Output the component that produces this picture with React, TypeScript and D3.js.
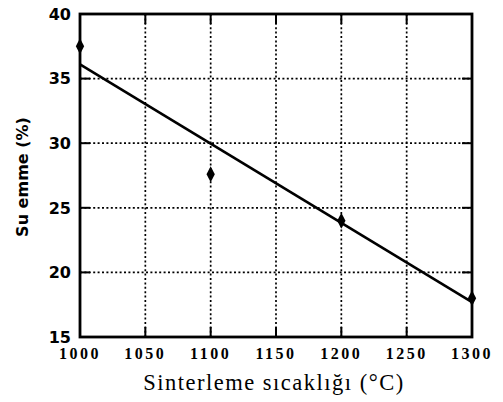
import React from "react";
import * as d3 from "d3";

const temps = [1000, 1100, 1200, 1300];
const absorption = [37.5, 27.6, 24.0, 18.0];
const trendX = [1000, 1300];
const trendY = [36.1, 17.7];
const xTicks = [1000, 1050, 1100, 1150, 1200, 1250, 1300];
const yTicks = [15, 20, 25, 30, 35, 40];

const W = 503, H = 402;
const m = { left: 80, right: 31, top: 14, bottom: 65 };

export default function App() {
  const x = d3.scaleLinear().domain([1000, 1300]).range([m.left, W - m.right]);
  const y = d3.scaleLinear().domain([15, 40]).range([H - m.bottom, m.top]);
  const line = d3.line<number>().x((_, i) => x(trendX[i])).y((d) => y(d));
  const diamond = d3.symbol().type(d3.symbolDiamond).size(60)();
  const x0 = x(1000), x1 = x(1300), y0 = y(15), y1 = y(40);
  const tickLen = 10;
  return (
    <div style={{ position: "fixed", left: 0, top: 0 }}>
      <svg width={W} height={H} style={{ display: "block", background: "#fff" }}>
        {xTicks.slice(1, -1).map((t) => (
          <line key={"gx" + t} x1={x(t)} x2={x(t)} y1={y1} y2={y0} stroke="#000" strokeWidth={1.7} strokeDasharray="2,2.4" />
        ))}
        {yTicks.slice(1, -1).map((t) => (
          <line key={"gy" + t} x1={x0} x2={x1} y1={y(t)} y2={y(t)} stroke="#000" strokeWidth={1.7} strokeDasharray="2,2.4" />
        ))}
        {yTicks.slice(1, -1).map((t) => (
          <g key={"ty" + t}>
            <line x1={x0} x2={x0 + tickLen} y1={y(t)} y2={y(t)} stroke="#000" strokeWidth={2} />
            <line x1={x1} x2={x1 - tickLen} y1={y(t)} y2={y(t)} stroke="#000" strokeWidth={2} />
          </g>
        ))}
        {xTicks.slice(1, -1).map((t) => (
          <g key={"tx" + t}>
            <line x1={x(t)} x2={x(t)} y1={y0} y2={y0 - tickLen} stroke="#000" strokeWidth={2} />
            <line x1={x(t)} x2={x(t)} y1={y1} y2={y1 + tickLen} stroke="#000" strokeWidth={2} />
          </g>
        ))}
        <rect x={x0} y={y1} width={x1 - x0} height={y0 - y1} fill="none" stroke="#000" strokeWidth={2.8} />
        <path d={line(trendY) || ""} fill="none" stroke="#000" strokeWidth={2.6} />
        {temps.map((t, i) => (
          <path key={"p" + t} d={diamond || ""} transform={`translate(${x(t)},${y(absorption[i])}) scale(1,1.1)`} fill="#000" />
        ))}
        {yTicks.map((t) => (
          <text key={"ly" + t} x={x0 - 9} y={y(t)} dy="0.36em" textAnchor="end"
            fontFamily="DejaVu Sans" fontWeight="bold" fontSize={16} fill="#000">{t}</text>
        ))}
        {xTicks.map((t) => (
          <text key={"lx" + t} x={x(t)} y={359} textAnchor="middle"
            fontFamily="Liberation Serif" fontWeight="bold" fontSize={16} letterSpacing={2.5} fill="#000">{t}</text>
        ))}
        <text x={274} y={390} textAnchor="middle" fontFamily="Liberation Serif" fontSize={22.5} letterSpacing={1.5} fill="#000">
          Sinterleme sıcaklığı (°C)
        </text>
        <text transform={`translate(28,177) rotate(-90)`} textAnchor="middle" fontFamily="DejaVu Sans" fontWeight="bold" fontSize={16} fill="#000">
          Su emme (%)
        </text>
      </svg>
    </div>
  );
}
